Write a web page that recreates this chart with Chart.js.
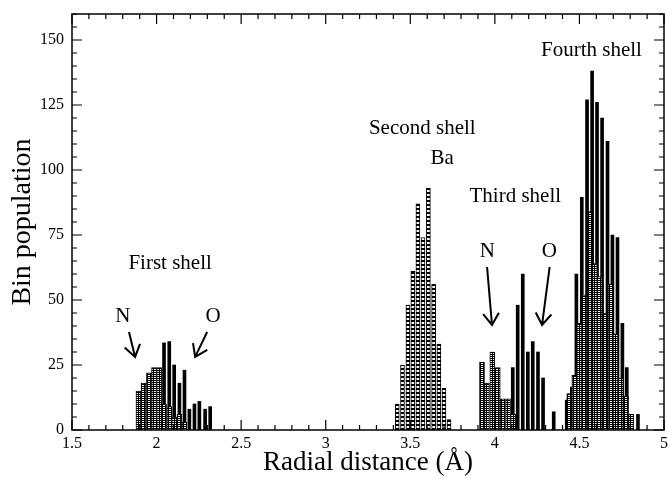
<!DOCTYPE html>
<html>
<head>
<meta charset="utf-8">
<script src="https://cdn.jsdelivr.net/npm/chart.js@4/dist/chart.umd.min.js"></script>
<style>
    html, body { margin: 0; padding: 0; background: #fff; }
    #wrap { width: 668px; height: 479px; }
</style>
</head>
<body>
<div id="wrap"><canvas id="chart1" width="668" height="479"></canvas></div>
<script>
// bin centres (Å) and counts
const nFirstX = [1.893, 1.923, 1.955, 1.985, 2.015, 2.044, 2.075, 2.104, 2.135, 2.165];
const nFirstY = [15, 18, 22, 24, 24, 10, 9, 5, 6, 3];
const oFirstX = [2.044, 2.075, 2.104, 2.135, 2.165, 2.194, 2.224, 2.253, 2.287, 2.317];
const oFirstY = [33.5, 34, 25, 18, 23, 8, 10, 11, 8, 9];

const baX = [3.423, 3.454, 3.486, 3.515, 3.545, 3.575, 3.607, 3.638, 3.669, 3.699, 3.729];
const baY = [10, 25, 48, 61, 87, 74, 93, 56, 33, 16, 4];

const nThirdX = [3.924, 3.953, 3.985, 4.017, 4.046, 4.078, 4.108];
const nThirdY = [26, 18, 30, 24, 12, 12, 6];
const oThirdX = [4.106, 4.135, 4.165, 4.195, 4.224, 4.255, 4.285, 4.348];
const oThirdY = [24, 48, 60, 30, 34, 30, 20, 7];

const oFourthX = [4.425, 4.455, 4.482, 4.514, 4.545, 4.575, 4.604, 4.634, 4.666, 4.695, 4.725, 4.754, 4.78, 4.81, 4.846];
const oFourthY = [11.5, 16.5, 60, 89.5, 127, 138, 126, 120, 111, 75, 74, 41, 24, 6, 6];
const nFourthX = [4.44, 4.47, 4.5, 4.53, 4.561, 4.591, 4.62, 4.65, 4.683, 4.713, 4.745, 4.775, 4.805];
const nFourthY = [14, 21, 41, 52, 84, 64, 59, 45, 56, 37, 20, 13, 6];

const xTicks = [1.5, 2, 2.5, 3, 3.5, 4, 4.5, 5];
const yTicks = [0, 25, 50, 75, 100, 125, 150];

const notes = [
    { text: "First shell", x: 2.08, y: 64 },
    { text: "N", x: 1.8, y: 43.5 },
    { text: "O", x: 2.334, y: 43.5 },
    { text: "Second shell", x: 3.571, y: 116 },
    { text: "Ba", x: 3.689, y: 104.6 },
    { text: "Third shell", x: 4.121, y: 90 },
    { text: "N", x: 3.956, y: 68.5 },
    { text: "O", x: 4.322, y: 68.5 },
    { text: "Fourth shell", x: 4.571, y: 146 },
];
const arrows = [
    [1.837, 37.7, 1.873, 28.1],
    [2.299, 37.7, 2.228, 28.1],
    [3.954, 62.7, 3.983, 40.4],
    [4.324, 62.7, 4.279, 40.4],
];

const pts = (xs, ys) => xs.map((x, i) => ({ x: x, y: ys[i] }));

const canvas = document.getElementById("chart1");
const ctx = canvas.getContext("2d");

function makePattern(w, h, draw) {
    const c = document.createElement("canvas");
    c.width = w;
    c.height = h;
    draw(c.getContext("2d"));
    return ctx.createPattern(c, "repeat");
}

// black grid with small white squares
const dotted = makePattern(3, 2, (g) => {
    g.fillStyle = "#000";
    g.fillRect(0, 0, 3, 2);
    g.fillStyle = "#fff";
    g.fillRect(1, 1, 2, 1);
});
// black / white dashes
const dashed = makePattern(2, 4, (g) => {
    g.fillStyle = "#000";
    g.fillRect(0, 0, 2, 2);
    g.fillStyle = "#fff";
    g.fillRect(0, 2, 2, 2);
});

const serif = "'Liberation Serif', 'DejaVu Serif', serif";

const frame = {
    id: "frame",
    afterDraw(chart) {
        const c = chart.ctx;
        const a = chart.chartArea;
        const x = chart.scales.x;
        const y = chart.scales.y;
        c.save();
        c.strokeStyle = "#000";
        c.lineWidth = 1.5;
        c.strokeRect(a.left, a.top, a.right - a.left, a.bottom - a.top);

        c.lineWidth = 1.2;
        c.beginPath();
        for (let i = 0; i <= 35; i++) {
            const px = x.getPixelForValue(1.5 + i * 0.1);
            const len = i % 5 === 0 ? 10 : 5;
            c.moveTo(px, a.bottom);
            c.lineTo(px, a.bottom - len);
            c.moveTo(px, a.top);
            c.lineTo(px, a.top + len);
        }
        for (let v = 0; v <= 160; v += 5) {
            const py = y.getPixelForValue(v);
            const len = v % 25 === 0 ? 10 : 5;
            c.moveTo(a.left, py);
            c.lineTo(a.left + len, py);
            c.moveTo(a.right, py);
            c.lineTo(a.right - len, py);
        }
        c.stroke();

        c.fillStyle = "#000";
        c.font = "21px " + serif;
        c.textAlign = "center";
        c.textBaseline = "middle";
        notes.forEach((n) => {
            c.fillText(n.text, x.getPixelForValue(n.x), y.getPixelForValue(n.y));
        });

        c.lineWidth = 2;
        arrows.forEach((ar) => {
            const x1 = x.getPixelForValue(ar[0]);
            const y1 = y.getPixelForValue(ar[1]);
            const x2 = x.getPixelForValue(ar[2]);
            const y2 = y.getPixelForValue(ar[3]);
            const ang = Math.atan2(y2 - y1, x2 - x1);
            c.beginPath();
            c.moveTo(x1, y1);
            c.lineTo(x2, y2);
            c.moveTo(x2 - 14 * Math.cos(ang - 0.6), y2 - 14 * Math.sin(ang - 0.6));
            c.lineTo(x2, y2);
            c.lineTo(x2 - 14 * Math.cos(ang + 0.6), y2 - 14 * Math.sin(ang + 0.6));
            c.stroke();
        });
        c.restore();
    },
};

new Chart(ctx, {
    type: "bar",
    data: {
        datasets: [
            {
                label: "N",
                data: pts(nFirstX.concat(nThirdX, nFourthX), nFirstY.concat(nThirdY, nFourthY)),
                backgroundColor: dotted,
                borderColor: "#000",
                borderWidth: 1,
                barThickness: 5,
                grouped: false,
            },
            {
                label: "O",
                data: pts(oFirstX.concat(oThirdX, oFourthX), oFirstY.concat(oThirdY, oFourthY)),
                backgroundColor: "#000",
                borderWidth: 0,
                barThickness: 3,
                grouped: false,
            },
            {
                label: "Ba",
                data: pts(baX, baY),
                backgroundColor: dashed,
                borderColor: "#000",
                borderWidth: 1,
                barThickness: 4,
                grouped: false,
            },
        ],
    },
    options: {
        responsive: false,
        animation: false,
        layout: { padding: { top: 14, right: 4, left: 0, bottom: 0 } },
        plugins: { legend: { display: false }, tooltip: { enabled: false } },
        scales: {
            x: {
                type: "linear",
                min: 1.5,
                max: 5,
                offset: false,
                grid: { display: false, drawTicks: false },
                border: { display: false },
                afterBuildTicks: (s) => { s.ticks = xTicks.map((v) => ({ value: v })); },
                ticks: {
                    color: "#000",
                    font: { family: serif, size: 16 },
                    padding: 4,
                    maxRotation: 0,
                    autoSkip: false,
                    callback: (v) => String(v),
                },
                title: {
                    display: true,
                    text: "Radial distance (Å)",
                    color: "#000",
                    font: { family: serif, size: 27 },
                    padding: { bottom: 0 },
                },
                afterFit: (s) => {
                    s.height = 49;
                    s.paddingLeft = 0;
                    s.paddingRight = 0;
                },
            },
            y: {
                min: 0,
                max: 160,
                grid: { display: false, drawTicks: false },
                border: { display: false },
                afterBuildTicks: (s) => { s.ticks = yTicks.map((v) => ({ value: v })); },
                ticks: { color: "#000", font: { family: serif, size: 16 }, padding: 8 },
                title: {
                    display: true,
                    text: "Bin population",
                    color: "#000",
                    font: { family: serif, size: 28 },
                    padding: { top: 6 },
                },
                afterFit: (s) => {
                    s.width = 72;
                    s.paddingTop = 0;
                    s.paddingBottom = 0;
                },
            },
        },
    },
    plugins: [frame],
});
</script>
</body>
</html>
